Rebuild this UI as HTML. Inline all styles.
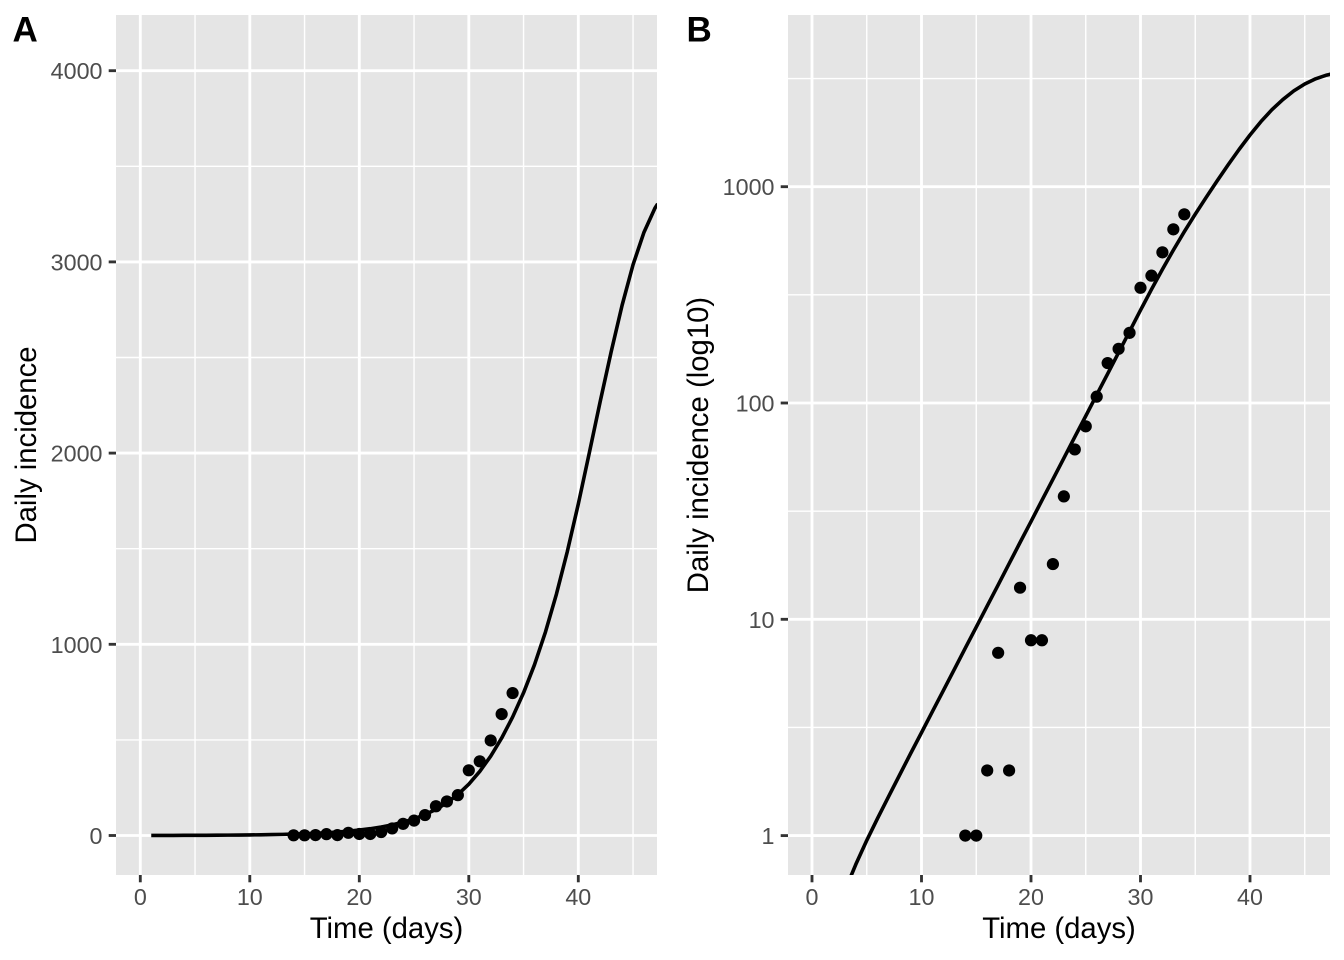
<!DOCTYPE html>
<html>
<head>
<meta charset="utf-8">
<style>
html,body{margin:0;padding:0;background:#fff;}
svg{display:block;}
text{font-family:"Liberation Sans",Arial,sans-serif;}
.tl{fill:#4D4D4D;font-size:23.3px;}
.tt{fill:#000;font-size:29.3px;}
.tag{fill:#000;font-size:35px;font-weight:bold;}
</style>
</head>
<body>
<svg width="1344" height="960" viewBox="0 0 1344 960" xmlns="http://www.w3.org/2000/svg">
<defs>
<clipPath id="ca"><rect x="116" y="15" width="541" height="860"/></clipPath>
<clipPath id="cb"><rect x="788" y="15" width="542" height="860"/></clipPath>
</defs>
<rect x="0" y="0" width="1344" height="960" fill="#fff"/>

<!-- ===== Panel A ===== -->
<rect x="116" y="15" width="541" height="860" fill="#E5E5E5"/>
<g stroke="#fff" stroke-width="1.42" fill="none">
<line x1="116" x2="657" y1="739.9" y2="739.9"/>
<line x1="116" x2="657" y1="548.7" y2="548.7"/>
<line x1="116" x2="657" y1="357.5" y2="357.5"/>
<line x1="116" x2="657" y1="166.3" y2="166.3"/>
<line y1="15" y2="875" x1="195.05" x2="195.05"/>
<line y1="15" y2="875" x1="304.55" x2="304.55"/>
<line y1="15" y2="875" x1="414.05" x2="414.05"/>
<line y1="15" y2="875" x1="523.55" x2="523.55"/>
<line y1="15" y2="875" x1="633.05" x2="633.05"/>
</g>
<g stroke="#fff" stroke-width="2.85" fill="none">
<line x1="116" x2="657" y1="835.5" y2="835.5"/>
<line x1="116" x2="657" y1="644.3" y2="644.3"/>
<line x1="116" x2="657" y1="453.1" y2="453.1"/>
<line x1="116" x2="657" y1="261.9" y2="261.9"/>
<line x1="116" x2="657" y1="70.7" y2="70.7"/>
<line y1="15" y2="875" x1="140.3" x2="140.3"/>
<line y1="15" y2="875" x1="249.8" x2="249.8"/>
<line y1="15" y2="875" x1="359.3" x2="359.3"/>
<line y1="15" y2="875" x1="468.8" x2="468.8"/>
<line y1="15" y2="875" x1="578.3" x2="578.3"/>
</g>
<g clip-path="url(#ca)">
<polyline fill="none" stroke="#000" stroke-width="3.6" stroke-linejoin="round" stroke-linecap="butt" points="151.25,835.44 162.2,835.42 173.15,835.39 184.1,835.36 195.05,835.31 206.0,835.27 216.95,835.21 227.9,835.13 238.85,835.04 249.8,834.93 260.75,834.78 271.7,834.60 282.65,834.38 293.6,834.09 304.55,833.74 315.5,833.30 326.45,832.74 337.4,832.05 348.35,831.17 359.3,830.09 370.25,828.72 381.2,827.02 392.15,824.87 403.1,822.18 414.05,818.85 425.0,814.64 435.95,809.40 446.9,802.80 457.85,794.53 468.8,784.16 479.75,771.45 490.7,756.15 501.65,738.12 512.6,717.07 523.55,692.79 534.5,664.70 545.45,632.02 556.4,594.23 567.35,551.39 578.3,504.00 589.25,453.12 600.2,401.48 611.15,351.90 622.1,305.25 633.05,264.70 644.0,232.23 654.95,208.11 657.7,203.83"/>
<g fill="#000">
<circle cx="293.6" cy="835.31" r="6.1"/>
<circle cx="304.55" cy="835.31" r="6.1"/>
<circle cx="315.5" cy="835.12" r="6.1"/>
<circle cx="326.45" cy="834.16" r="6.1"/>
<circle cx="337.4" cy="835.12" r="6.1"/>
<circle cx="348.35" cy="832.82" r="6.1"/>
<circle cx="359.3" cy="833.97" r="6.1"/>
<circle cx="370.25" cy="833.97" r="6.1"/>
<circle cx="381.2" cy="832.06" r="6.1"/>
<circle cx="392.15" cy="828.43" r="6.1"/>
<circle cx="403.1" cy="823.84" r="6.1"/>
<circle cx="414.05" cy="820.59" r="6.1"/>
<circle cx="425.0" cy="815.04" r="6.1"/>
<circle cx="435.95" cy="806.25" r="6.1"/>
<circle cx="446.9" cy="801.47" r="6.1"/>
<circle cx="457.85" cy="795.16" r="6.1"/>
<circle cx="468.8" cy="770.30" r="6.1"/>
<circle cx="479.75" cy="761.31" r="6.1"/>
<circle cx="490.7" cy="740.47" r="6.1"/>
<circle cx="501.65" cy="714.09" r="6.1"/>
<circle cx="512.6" cy="693.06" r="6.1"/>
</g>
</g>
<!-- A ticks -->
<g stroke="#333333" stroke-width="2.85">
<line x1="108.7" x2="116" y1="835.5" y2="835.5"/>
<line x1="108.7" x2="116" y1="644.3" y2="644.3"/>
<line x1="108.7" x2="116" y1="453.1" y2="453.1"/>
<line x1="108.7" x2="116" y1="261.9" y2="261.9"/>
<line x1="108.7" x2="116" y1="70.7" y2="70.7"/>
<line y1="875" y2="882.3" x1="140.3" x2="140.3"/>
<line y1="875" y2="882.3" x1="249.8" x2="249.8"/>
<line y1="875" y2="882.3" x1="359.3" x2="359.3"/>
<line y1="875" y2="882.3" x1="468.8" x2="468.8"/>
<line y1="875" y2="882.3" x1="578.3" x2="578.3"/>
</g>
<g class="tl" text-anchor="end">
<text x="102.5" y="844">0</text>
<text x="102.5" y="652.8">1000</text>
<text x="102.5" y="461.6">2000</text>
<text x="102.5" y="270.4">3000</text>
<text x="102.5" y="79.2">4000</text>
</g>
<g class="tl" text-anchor="middle">
<text x="140.3" y="905">0</text>
<text x="249.8" y="905">10</text>
<text x="359.3" y="905">20</text>
<text x="468.8" y="905">30</text>
<text x="578.3" y="905">40</text>
</g>
<text class="tt" x="386.5" y="938" text-anchor="middle">Time (days)</text>
<text class="tt" transform="translate(36,445) rotate(-90)" text-anchor="middle">Daily incidence</text>
<text class="tag" x="12.5" y="41.7">A</text>

<!-- ===== Panel B ===== -->
<rect x="788" y="15" width="542" height="860" fill="#E5E5E5"/>
<g stroke="#fff" stroke-width="1.42" fill="none">
<line x1="788" x2="1330" y1="727.45" y2="727.45"/>
<line x1="788" x2="1330" y1="511.15" y2="511.15"/>
<line x1="788" x2="1330" y1="294.85" y2="294.85"/>
<line x1="788" x2="1330" y1="78.55" y2="78.55"/>
<line y1="15" y2="875" x1="866.75" x2="866.75"/>
<line y1="15" y2="875" x1="976.25" x2="976.25"/>
<line y1="15" y2="875" x1="1085.75" x2="1085.75"/>
<line y1="15" y2="875" x1="1195.25" x2="1195.25"/>
<line y1="15" y2="875" x1="1304.75" x2="1304.75"/>
</g>
<g stroke="#fff" stroke-width="2.85" fill="none">
<line x1="788" x2="1330" y1="835.6" y2="835.6"/>
<line x1="788" x2="1330" y1="619.3" y2="619.3"/>
<line x1="788" x2="1330" y1="403.0" y2="403.0"/>
<line x1="788" x2="1330" y1="186.7" y2="186.7"/>
<line y1="15" y2="875" x1="812" x2="812"/>
<line y1="15" y2="875" x1="921.5" x2="921.5"/>
<line y1="15" y2="875" x1="1031" x2="1031"/>
<line y1="15" y2="875" x1="1140.5" x2="1140.5"/>
<line y1="15" y2="875" x1="1250" x2="1250"/>
</g>
<g clip-path="url(#cb)">
<polyline fill="none" stroke="#000" stroke-width="3.6" stroke-linejoin="round" points="822.95,949.2 833.9,918.9 844.85,890.8 855.8,864.4 866.75,840.4 877.7,818.1 888.65,796.4 899.6,775.0 910.55,753.62 921.5,732.64 932.45,711.44 943.4,690.46 954.35,669.27 965.3,648.07 976.25,627.09 987.2,605.89 998.15,584.91 1009.1,563.71 1020.05,542.51 1031.0,521.53 1041.95,500.33 1052.9,479.35 1063.85,458.16 1074.8,436.96 1085.75,415.98 1096.7,394.78 1107.65,373.80 1118.6,352.60 1129.55,331.40 1140.5,310.21 1151.45,289.44 1162.4,269.33 1173.35,250.08 1184.3,231.69 1195.25,214.17 1206.2,197.30 1217.15,180.86 1228.1,164.85 1239.05,149.50 1250.0,135.00 1260.95,121.59 1271.9,109.70 1282.85,99.53 1293.8,90.88 1304.75,83.96 1315.7,78.77 1326.65,75.09 1329.4,74.44 1335,73.5"/>
<g fill="#000">
<circle cx="965.3" cy="835.6" r="6.1"/>
<circle cx="976.25" cy="835.6" r="6.1"/>
<circle cx="987.2" cy="770.49" r="6.1"/>
<circle cx="998.15" cy="652.80" r="6.1"/>
<circle cx="1009.1" cy="770.49" r="6.1"/>
<circle cx="1020.05" cy="587.70" r="6.1"/>
<circle cx="1031.0" cy="640.26" r="6.1"/>
<circle cx="1041.95" cy="640.26" r="6.1"/>
<circle cx="1052.9" cy="564.08" r="6.1"/>
<circle cx="1063.85" cy="496.40" r="6.1"/>
<circle cx="1074.8" cy="449.44" r="6.1"/>
<circle cx="1085.75" cy="426.34" r="6.1"/>
<circle cx="1096.7" cy="396.64" r="6.1"/>
<circle cx="1107.65" cy="363.05" r="6.1"/>
<circle cx="1118.6" cy="348.84" r="6.1"/>
<circle cx="1129.55" cy="332.85" r="6.1"/>
<circle cx="1140.5" cy="287.76" r="6.1"/>
<circle cx="1151.45" cy="275.64" r="6.1"/>
<circle cx="1162.4" cy="252.37" r="6.1"/>
<circle cx="1173.35" cy="229.35" r="6.1"/>
<circle cx="1184.3" cy="214.34" r="6.1"/>
</g>
</g>
<!-- B ticks -->
<g stroke="#333333" stroke-width="2.85">
<line x1="780.7" x2="788" y1="835.6" y2="835.6"/>
<line x1="780.7" x2="788" y1="619.3" y2="619.3"/>
<line x1="780.7" x2="788" y1="403.0" y2="403.0"/>
<line x1="780.7" x2="788" y1="186.7" y2="186.7"/>
<line y1="875" y2="882.3" x1="812" x2="812"/>
<line y1="875" y2="882.3" x1="921.5" x2="921.5"/>
<line y1="875" y2="882.3" x1="1031" x2="1031"/>
<line y1="875" y2="882.3" x1="1140.5" x2="1140.5"/>
<line y1="875" y2="882.3" x1="1250" x2="1250"/>
</g>
<g class="tl" text-anchor="end">
<text x="774.5" y="844.1">1</text>
<text x="774.5" y="627.8">10</text>
<text x="774.5" y="411.5">100</text>
<text x="774.5" y="195.2">1000</text>
</g>
<g class="tl" text-anchor="middle">
<text x="812" y="905">0</text>
<text x="921.5" y="905">10</text>
<text x="1031" y="905">20</text>
<text x="1140.5" y="905">30</text>
<text x="1250" y="905">40</text>
</g>
<text class="tt" x="1059" y="938" text-anchor="middle">Time (days)</text>
<text class="tt" transform="translate(708,445) rotate(-90)" text-anchor="middle">Daily incidence (log10)</text>
<text class="tag" x="686.5" y="41.7">B</text>
</svg>
</body>
</html>
